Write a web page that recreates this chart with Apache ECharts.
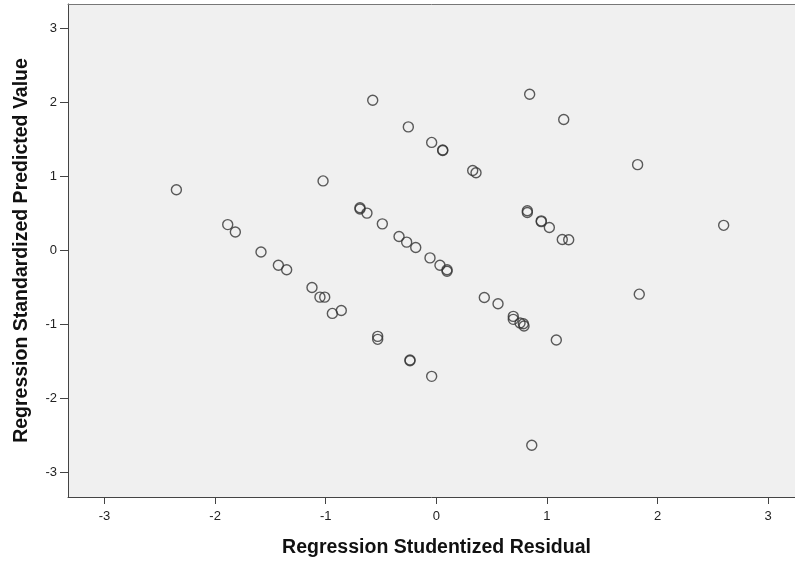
<!DOCTYPE html>
<html>
<head>
<meta charset="utf-8">
<script src="https://cdn.jsdelivr.net/npm/echarts@6/dist/echarts.min.js"></script>
<style>
  html, body { margin: 0; padding: 0; background: #fff; }
  #chart { width: 795px; height: 564px; }
</style>
</head>
<body>
<div id="chart"></div>
<script>
// Residuals (x) vs standardized predicted values (y)
const residuals = [
  -2.35, -1.886, -1.817, -1.585, -1.428, -1.353, -1.124, -1.052, -1.009, -0.94, -0.859,
  -1.024, -0.69, -0.69, -0.627, -0.488, -0.337, -0.268, -0.186, -0.057, 0.033, 0.097, 0.097,
  -0.575, -0.253, -0.042, 0.058, 0.058, 0.329, 0.359,
  -0.53, -0.53, -0.238, -0.238, -0.042,
  0.434, 0.558, 0.696, 0.696, 0.757, 0.787, 0.793, 1.085, 0.863,
  0.844, 1.152, 0.823, 0.823, 0.949, 0.949, 1.022, 1.139, 1.197,
  1.82, 2.598, 1.835
];
const predicted = [
  0.82, 0.35, 0.25, -0.02, -0.20, -0.26, -0.50, -0.63, -0.63, -0.85, -0.81,
  0.94, 0.577, 0.56, 0.505, 0.36, 0.19, 0.113, 0.04, -0.10, -0.20, -0.26, -0.28,
  2.03, 1.67, 1.46, 1.357, 1.35, 1.08, 1.05,
  -1.16, -1.20, -1.48, -1.49, -1.70,
  -0.635, -0.72, -0.89, -0.93, -0.98, -0.99, -1.02, -1.21, -2.63,
  2.11, 1.77, 0.536, 0.514, 0.40, 0.39, 0.31, 0.149, 0.145,
  1.16, 0.34, -0.59
];
const tickValues = [-3, -2, -1, 0, 1, 2, 3];

const points = residuals.map((x, i) => [x, predicted[i]]);

const chart = echarts.init(document.getElementById('chart'), null, { renderer: 'canvas' });

const labelFont = { fontFamily: 'Liberation Sans, Arial, sans-serif', fontSize: 13, color: '#222' };
const nameFont = { fontFamily: 'Liberation Sans, Arial, sans-serif', fontSize: 19.5, fontWeight: 'bold', color: '#111' };

chart.setOption({
  animation: false,
  grid: {
    left: 68,
    right: 0,
    top: 4,
    bottom: 67,
    show: true,
    backgroundColor: '#f0f0f0',
    borderWidth: 0,
  },
  xAxis: [
    {
      type: 'value',
      min: -3.33,
      max: 3.243,
      name: 'Regression Studentized Residual',
      nameLocation: 'middle',
      nameGap: 41,
      nameTextStyle: { ...nameFont, padding: [0, 0, 0, 10] },
      axisLine: { show: true, onZero: false, lineStyle: { color: '#444', width: 1 } },
      axisTick: { show: true, length: 7, customValues: tickValues, lineStyle: { color: '#444' } },
      axisLabel: { customValues: tickValues, margin: 13, ...labelFont },
      splitLine: { show: false },
    },
    {
      type: 'value',
      position: 'top',
      min: -3.33,
      max: 3.243,
      axisLine: { show: true, onZero: false, lineStyle: { color: '#777', width: 1 } },
      axisTick: { show: false },
      axisLabel: { show: false },
      splitLine: { show: false },
    },
  ],
  yAxis: {
    type: 'value',
    min: -3.33,
    max: 3.33,
    name: 'Regression Standardized Predicted Value',
    nameLocation: 'middle',
    nameGap: 36,
    nameTextStyle: nameFont,
    axisLine: { show: true, onZero: false, lineStyle: { color: '#444', width: 1 } },
    axisTick: { show: true, length: 8, customValues: tickValues, lineStyle: { color: '#444' } },
    axisLabel: { customValues: tickValues, margin: 11, ...labelFont },
    splitLine: { show: false },
  },
  series: [
    {
      type: 'scatter',
      data: points,
      symbol: 'circle',
      symbolSize: 10,
      itemStyle: {
        color: 'rgba(0,0,0,0)',
        borderColor: '#333',
        borderWidth: 1.4,
      },
    },
  ],
});
</script>
</body>
</html>
